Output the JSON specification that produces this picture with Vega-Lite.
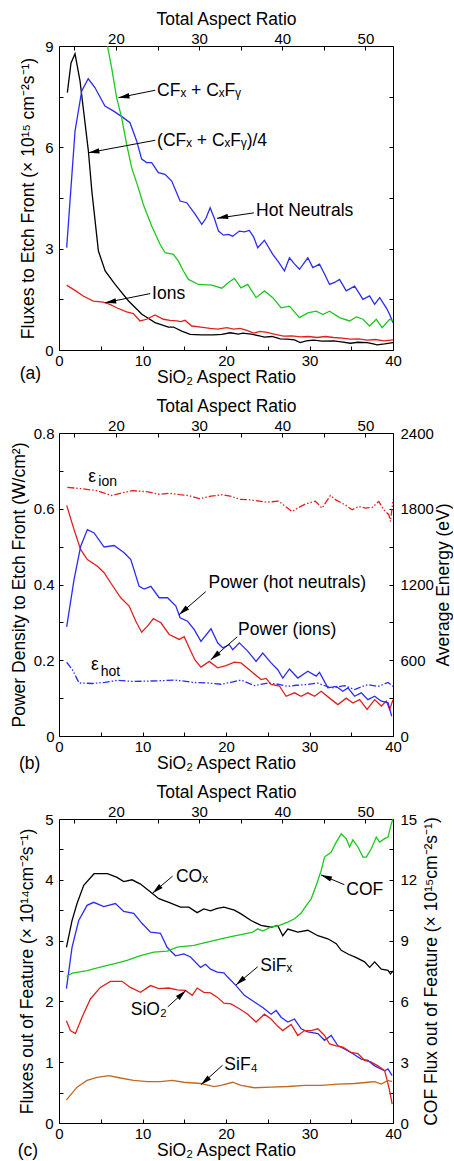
{
"$schema": "https://vega.github.io/schema/vega-lite/v6.json",
"padding": {"left": 10, "top": 9, "right": 0, "bottom": 0},
"background": "white",
"bounds": "flush",
"spacing": 83,
"config": {
  "font": "Liberation Sans",
  "view": {"stroke": "black", "strokeWidth": 1},
  "axis": {"grid": false, "domain": false, "tickColor": "black", "tickSize": -4, "tickWidth": 1,
           "labelColor": "black", "labelFont": "Liberation Sans", "labelFontSize": 15, "labelFlush": false, "labelOverlap": false,
           "titleFont": "Liberation Sans", "titleFontSize": 17.5, "titleFontWeight": "normal", "titleColor": "black"}
},
"datasets": {
  "a_curves": [
    {"s":"cf4","ar":1.0,"v":7.62},{"s":"cf4","ar":1.44,"v":8.5},{"s":"cf4","ar":1.92,"v":8.77},{"s":"cf4","ar":2.52,"v":7.96},{"s":"cf4","ar":3.52,"v":5.89},{"s":"cf4","ar":3.93,"v":4.71},{"s":"cf4","ar":4.72,"v":2.93},{"s":"cf4","ar":5.53,"v":2.34},{"s":"cf4","ar":6.72,"v":1.94},{"s":"cf4","ar":8.33,"v":1.45},{"s":"cf4","ar":9.93,"v":1.06},{"s":"cf4","ar":11.5,"v":0.81},{"s":"cf4","ar":13.1,"v":0.68},{"s":"cf4","ar":13.7,"v":0.68},{"s":"cf4","ar":14.7,"v":0.56},{"s":"cf4","ar":15.7,"v":0.46},{"s":"cf4","ar":17.0,"v":0.45},{"s":"cf4","ar":18.5,"v":0.45},{"s":"cf4","ar":19.5,"v":0.46},{"s":"cf4","ar":20.5,"v":0.51},{"s":"cf4","ar":21.5,"v":0.47},{"s":"cf4","ar":22.0,"v":0.5},{"s":"cf4","ar":23.0,"v":0.47},{"s":"cf4","ar":24.0,"v":0.42},{"s":"cf4","ar":24.6,"v":0.38},{"s":"cf4","ar":25.5,"v":0.4},{"s":"cf4","ar":26.5,"v":0.33},{"s":"cf4","ar":27.3,"v":0.32},{"s":"cf4","ar":28.2,"v":0.3},{"s":"cf4","ar":28.9,"v":0.22},{"s":"cf4","ar":29.6,"v":0.27},{"s":"cf4","ar":30.5,"v":0.29},{"s":"cf4","ar":31.5,"v":0.26},{"s":"cf4","ar":32.9,"v":0.27},{"s":"cf4","ar":33.8,"v":0.24},{"s":"cf4","ar":34.9,"v":0.2},{"s":"cf4","ar":35.8,"v":0.23},{"s":"cf4","ar":36.9,"v":0.22},{"s":"cf4","ar":37.5,"v":0.19},{"s":"cf4","ar":38.1,"v":0.15},{"s":"cf4","ar":39.0,"v":0.18},{"s":"cf4","ar":40.0,"v":0.22},
    {"s":"ion","ar":0.92,"v":1.92},{"s":"ion","ar":2.0,"v":1.75},{"s":"ion","ar":2.9,"v":1.6},{"s":"ion","ar":4.1,"v":1.45},{"s":"ion","ar":5.3,"v":1.42},{"s":"ion","ar":6.1,"v":1.35},{"s":"ion","ar":6.9,"v":1.25},{"s":"ion","ar":8.1,"v":1.13},{"s":"ion","ar":8.9,"v":1.08},{"s":"ion","ar":9.3,"v":0.97},{"s":"ion","ar":9.7,"v":0.86},{"s":"ion","ar":10.5,"v":0.91},{"s":"ion","ar":11.5,"v":1.04},{"s":"ion","ar":12.5,"v":0.91},{"s":"ion","ar":13.3,"v":0.88},{"s":"ion","ar":14.1,"v":0.86},{"s":"ion","ar":14.6,"v":0.84},{"s":"ion","ar":15.1,"v":0.88},{"s":"ion","ar":15.9,"v":0.71},{"s":"ion","ar":17.0,"v":0.68},{"s":"ion","ar":18.1,"v":0.64},{"s":"ion","ar":19.0,"v":0.62},{"s":"ion","ar":20.1,"v":0.66},{"s":"ion","ar":20.9,"v":0.62},{"s":"ion","ar":21.7,"v":0.64},{"s":"ion","ar":22.5,"v":0.58},{"s":"ion","ar":23.3,"v":0.5},{"s":"ion","ar":24.1,"v":0.55},{"s":"ion","ar":24.9,"v":0.52},{"s":"ion","ar":25.9,"v":0.46},{"s":"ion","ar":26.9,"v":0.41},{"s":"ion","ar":27.9,"v":0.42},{"s":"ion","ar":28.9,"v":0.39},{"s":"ion","ar":29.9,"v":0.4},{"s":"ion","ar":30.9,"v":0.37},{"s":"ion","ar":31.9,"v":0.4},{"s":"ion","ar":32.9,"v":0.37},{"s":"ion","ar":33.9,"v":0.35},{"s":"ion","ar":34.9,"v":0.32},{"s":"ion","ar":35.9,"v":0.33},{"s":"ion","ar":36.9,"v":0.29},{"s":"ion","ar":37.9,"v":0.31},{"s":"ion","ar":38.9,"v":0.27},{"s":"ion","ar":40.0,"v":0.3},
    {"s":"hot","ar":0.92,"v":3.03},{"s":"hot","ar":1.92,"v":6.48},{"s":"hot","ar":2.72,"v":7.67},{"s":"hot","ar":3.5,"v":8.03},{"s":"hot","ar":4.3,"v":7.77},{"s":"hot","ar":5.5,"v":7.22},{"s":"hot","ar":6.5,"v":7.08},{"s":"hot","ar":7.7,"v":6.88},{"s":"hot","ar":8.5,"v":6.73},{"s":"hot","ar":9.3,"v":6.19},{"s":"hot","ar":9.9,"v":5.65},{"s":"hot","ar":10.5,"v":5.55},{"s":"hot","ar":11.1,"v":5.55},{"s":"hot","ar":11.9,"v":5.25},{"s":"hot","ar":12.7,"v":5.2},{"s":"hot","ar":13.5,"v":5.0},{"s":"hot","ar":14.5,"v":4.41},{"s":"hot","ar":15.3,"v":4.36},{"s":"hot","ar":16.3,"v":4.02},{"s":"hot","ar":17.1,"v":3.72},{"s":"hot","ar":17.6,"v":3.9},{"s":"hot","ar":18.1,"v":4.21},{"s":"hot","ar":18.6,"v":3.9},{"s":"hot","ar":19.1,"v":3.52},{"s":"hot","ar":19.7,"v":3.4},{"s":"hot","ar":20.3,"v":3.42},{"s":"hot","ar":20.8,"v":3.37},{"s":"hot","ar":21.6,"v":3.52},{"s":"hot","ar":22.2,"v":3.5},{"s":"hot","ar":22.8,"v":3.54},{"s":"hot","ar":23.3,"v":3.35},{"s":"hot","ar":23.8,"v":3.03},{"s":"hot","ar":24.6,"v":3.25},{"s":"hot","ar":25.6,"v":2.83},{"s":"hot","ar":26.3,"v":2.6},{"s":"hot","ar":27.0,"v":2.34},{"s":"hot","ar":27.6,"v":2.73},{"s":"hot","ar":28.2,"v":2.55},{"s":"hot","ar":28.8,"v":2.39},{"s":"hot","ar":29.8,"v":2.73},{"s":"hot","ar":30.4,"v":2.44},{"s":"hot","ar":31.2,"v":2.54},{"s":"hot","ar":31.8,"v":2.25},{"s":"hot","ar":32.4,"v":1.94},{"s":"hot","ar":33.0,"v":2.0},{"s":"hot","ar":33.6,"v":2.09},{"s":"hot","ar":34.4,"v":1.75},{"s":"hot","ar":35.4,"v":1.89},{"s":"hot","ar":35.9,"v":1.7},{"s":"hot","ar":36.4,"v":1.5},{"s":"hot","ar":37.2,"v":1.6},{"s":"hot","ar":37.8,"v":1.35},{"s":"hot","ar":38.4,"v":1.55},{"s":"hot","ar":39.2,"v":1.25},{"s":"hot","ar":39.6,"v":1.05},{"s":"hot","ar":40.0,"v":0.81},
    {"s":"cf","ar":5.8,"v":9.0},{"s":"cf","ar":6.3,"v":8.36},{"s":"cf","ar":6.9,"v":7.47},{"s":"cf","ar":7.5,"v":6.88},{"s":"cf","ar":8.1,"v":6.09},{"s":"cf","ar":8.7,"v":5.4},{"s":"cf","ar":9.5,"v":4.8},{"s":"cf","ar":10.1,"v":4.31},{"s":"cf","ar":11.1,"v":3.67},{"s":"cf","ar":12.1,"v":3.13},{"s":"cf","ar":12.7,"v":2.88},{"s":"cf","ar":13.7,"v":2.83},{"s":"cf","ar":14.3,"v":2.63},{"s":"cf","ar":14.9,"v":2.34},{"s":"cf","ar":15.5,"v":2.09},{"s":"cf","ar":16.7,"v":1.94},{"s":"cf","ar":18.3,"v":1.92},{"s":"cf","ar":19.5,"v":1.83},{"s":"cf","ar":20.3,"v":2.0},{"s":"cf","ar":21.0,"v":2.12},{"s":"cf","ar":21.8,"v":1.84},{"s":"cf","ar":22.6,"v":1.94},{"s":"cf","ar":23.6,"v":1.55},{"s":"cf","ar":24.6,"v":1.75},{"s":"cf","ar":25.6,"v":1.55},{"s":"cf","ar":26.6,"v":1.25},{"s":"cf","ar":27.6,"v":1.3},{"s":"cf","ar":28.8,"v":0.96},{"s":"cf","ar":29.8,"v":1.1},{"s":"cf","ar":30.8,"v":1.15},{"s":"cf","ar":31.6,"v":1.05},{"s":"cf","ar":32.4,"v":1.15},{"s":"cf","ar":33.6,"v":0.96},{"s":"cf","ar":34.8,"v":0.86},{"s":"cf","ar":35.6,"v":0.98},{"s":"cf","ar":36.4,"v":0.91},{"s":"cf","ar":37.2,"v":0.71},{"s":"cf","ar":38.0,"v":0.91},{"s":"cf","ar":38.7,"v":0.66},{"s":"cf","ar":39.6,"v":0.91},{"s":"cf","ar":40.0,"v":0.86}
  ],
  "a_text": [
    {"t":"CFₓ + CₓFᵧ","ar":11.75,"v":7.68},{"t":"(CFₓ + CₓFᵧ)/4","ar":11.75,"v":6.2},{"t":"Hot Neutrals","ar":23.6,"v":4.12},{"t":"Ions","ar":11.15,"v":1.66},{"t":"(a)","ar":-4.7,"v":-0.7}
  ],
  "a_arrows": [
    {"t":"cf","ar":7.12,"v":7.47,"ar2":11.53,"v2":7.69},{"t":"cf4","ar":3.52,"v":5.84,"ar2":11.53,"v2":6.21},{"t":"hot","ar":18.94,"v":3.9,"ar2":23.34,"v2":4.06},{"t":"ion","ar":5.53,"v":1.4,"ar2":10.93,"v2":1.67}
  ],
  "b_power": [
    {"s":"ion","ar":0.92,"v":0.609},{"s":"ion","ar":1.8,"v":0.545},{"s":"ion","ar":2.6,"v":0.492},{"s":"ion","ar":3.4,"v":0.466},{"s":"ion","ar":4.6,"v":0.448},{"s":"ion","ar":5.4,"v":0.431},{"s":"ion","ar":6.2,"v":0.404},{"s":"ion","ar":7.4,"v":0.365},{"s":"ion","ar":8.4,"v":0.343},{"s":"ion","ar":9.2,"v":0.303},{"s":"ion","ar":9.9,"v":0.274},{"s":"ion","ar":10.6,"v":0.29},{"s":"ion","ar":11.3,"v":0.31},{"s":"ion","ar":12.2,"v":0.299},{"s":"ion","ar":13.2,"v":0.268},{"s":"ion","ar":14.4,"v":0.255},{"s":"ion","ar":15.0,"v":0.262},{"s":"ion","ar":15.7,"v":0.228},{"s":"ion","ar":16.3,"v":0.2},{"s":"ion","ar":17.0,"v":0.182},{"s":"ion","ar":18.0,"v":0.197},{"s":"ion","ar":19.0,"v":0.18},{"s":"ion","ar":20.0,"v":0.186},{"s":"ion","ar":21.0,"v":0.195},{"s":"ion","ar":21.8,"v":0.193},{"s":"ion","ar":23.0,"v":0.171},{"s":"ion","ar":24.2,"v":0.149},{"s":"ion","ar":24.8,"v":0.152},{"s":"ion","ar":25.4,"v":0.136},{"s":"ion","ar":26.4,"v":0.132},{"s":"ion","ar":27.2,"v":0.105},{"s":"ion","ar":28.2,"v":0.114},{"s":"ion","ar":29.0,"v":0.105},{"s":"ion","ar":29.8,"v":0.114},{"s":"ion","ar":30.6,"v":0.105},{"s":"ion","ar":31.4,"v":0.118},{"s":"ion","ar":32.4,"v":0.1},{"s":"ion","ar":33.4,"v":0.083},{"s":"ion","ar":34.4,"v":0.1},{"s":"ion","ar":35.2,"v":0.087},{"s":"ion","ar":36.0,"v":0.096},{"s":"ion","ar":36.9,"v":0.07},{"s":"ion","ar":37.8,"v":0.096},{"s":"ion","ar":38.6,"v":0.079},{"s":"ion","ar":39.2,"v":0.092},{"s":"ion","ar":39.6,"v":0.07},{"s":"ion","ar":40.0,"v":0.096},
    {"s":"hot","ar":0.92,"v":0.288},{"s":"hot","ar":1.8,"v":0.413},{"s":"hot","ar":2.6,"v":0.501},{"s":"hot","ar":3.4,"v":0.545},{"s":"hot","ar":4.2,"v":0.536},{"s":"hot","ar":5.4,"v":0.499},{"s":"hot","ar":6.6,"v":0.503},{"s":"hot","ar":7.8,"v":0.484},{"s":"hot","ar":8.6,"v":0.466},{"s":"hot","ar":9.6,"v":0.395},{"s":"hot","ar":10.2,"v":0.388},{"s":"hot","ar":11.0,"v":0.395},{"s":"hot","ar":12.0,"v":0.365},{"s":"hot","ar":13.0,"v":0.365},{"s":"hot","ar":14.0,"v":0.343},{"s":"hot","ar":14.5,"v":0.312},{"s":"hot","ar":15.4,"v":0.303},{"s":"hot","ar":16.2,"v":0.281},{"s":"hot","ar":17.0,"v":0.25},{"s":"hot","ar":18.2,"v":0.283},{"s":"hot","ar":19.0,"v":0.246},{"s":"hot","ar":19.6,"v":0.233},{"s":"hot","ar":20.4,"v":0.241},{"s":"hot","ar":20.8,"v":0.228},{"s":"hot","ar":21.6,"v":0.246},{"s":"hot","ar":22.6,"v":0.224},{"s":"hot","ar":23.6,"v":0.197},{"s":"hot","ar":24.4,"v":0.219},{"s":"hot","ar":25.4,"v":0.193},{"s":"hot","ar":26.2,"v":0.175},{"s":"hot","ar":26.8,"v":0.153},{"s":"hot","ar":27.6,"v":0.177},{"s":"hot","ar":28.6,"v":0.153},{"s":"hot","ar":29.8,"v":0.171},{"s":"hot","ar":30.8,"v":0.158},{"s":"hot","ar":31.2,"v":0.168},{"s":"hot","ar":32.2,"v":0.127},{"s":"hot","ar":33.2,"v":0.131},{"s":"hot","ar":34.0,"v":0.118},{"s":"hot","ar":34.6,"v":0.127},{"s":"hot","ar":35.4,"v":0.105},{"s":"hot","ar":36.2,"v":0.114},{"s":"hot","ar":37.0,"v":0.096},{"s":"hot","ar":37.8,"v":0.105},{"s":"hot","ar":38.6,"v":0.092},{"s":"hot","ar":39.4,"v":0.088},{"s":"hot","ar":39.85,"v":0.052}
  ],
  "b_energy": [
    {"s":"eion","ar":1.0,"e":1970},{"s":"eion","ar":2.5,"e":1960},{"s":"eion","ar":4.4,"e":1945},{"s":"eion","ar":6.3,"e":1905},{"s":"eion","ar":7.5,"e":1925},{"s":"eion","ar":8.8,"e":1943},{"s":"eion","ar":10.5,"e":1935},{"s":"eion","ar":12.0,"e":1915},{"s":"eion","ar":13.2,"e":1922},{"s":"eion","ar":14.4,"e":1912},{"s":"eion","ar":15.5,"e":1905},{"s":"eion","ar":16.8,"e":1880},{"s":"eion","ar":18.2,"e":1900},{"s":"eion","ar":19.6,"e":1912},{"s":"eion","ar":20.8,"e":1895},{"s":"eion","ar":21.6,"e":1875},{"s":"eion","ar":23.0,"e":1870},{"s":"eion","ar":24.8,"e":1852},{"s":"eion","ar":26.3,"e":1860},{"s":"eion","ar":27.1,"e":1820},{"s":"eion","ar":27.9,"e":1778},{"s":"eion","ar":28.7,"e":1810},{"s":"eion","ar":29.5,"e":1837},{"s":"eion","ar":30.7,"e":1860},{"s":"eion","ar":31.5,"e":1805},{"s":"eion","ar":32.5,"e":1905},{"s":"eion","ar":33.1,"e":1872},{"s":"eion","ar":34.3,"e":1830},{"s":"eion","ar":35.1,"e":1792},{"s":"eion","ar":35.9,"e":1818},{"s":"eion","ar":36.7,"e":1805},{"s":"eion","ar":37.5,"e":1810},{"s":"eion","ar":38.3,"e":1858},{"s":"eion","ar":38.9,"e":1792},{"s":"eion","ar":39.5,"e":1753},{"s":"eion","ar":39.7,"e":1699},{"s":"eion","ar":40.0,"e":1872},
    {"s":"ehot","ar":0.92,"e":584},{"s":"ehot","ar":1.6,"e":526},{"s":"ehot","ar":2.4,"e":420},{"s":"ehot","ar":4.0,"e":416},{"s":"ehot","ar":5.5,"e":425},{"s":"ehot","ar":7.0,"e":441},{"s":"ehot","ar":8.8,"e":432},{"s":"ehot","ar":10.6,"e":435},{"s":"ehot","ar":12.2,"e":438},{"s":"ehot","ar":13.8,"e":443},{"s":"ehot","ar":15.0,"e":435},{"s":"ehot","ar":16.2,"e":424},{"s":"ehot","ar":17.8,"e":420},{"s":"ehot","ar":19.4,"e":410},{"s":"ehot","ar":20.6,"e":425},{"s":"ehot","ar":21.8,"e":443},{"s":"ehot","ar":23.4,"e":399},{"s":"ehot","ar":25.0,"e":419},{"s":"ehot","ar":26.2,"e":410},{"s":"ehot","ar":27.4,"e":393},{"s":"ehot","ar":28.4,"e":402},{"s":"ehot","ar":29.4,"e":406},{"s":"ehot","ar":31.0,"e":419},{"s":"ehot","ar":32.6,"e":380},{"s":"ehot","ar":34.2,"e":399},{"s":"ehot","ar":35.4,"e":367},{"s":"ehot","ar":36.2,"e":390},{"s":"ehot","ar":37.0,"e":406},{"s":"ehot","ar":38.2,"e":393},{"s":"ehot","ar":39.4,"e":424},{"s":"ehot","ar":40.0,"e":393}
  ],
  "b_text": [
    {"t":"Power (hot neutrals)","ar":17.9,"v":0.403},{"t":"Power (ions)","ar":21.45,"v":0.28},{"t":"ε","ar":3.5,"v":0.683},{"t":"ε","ar":3.83,"v":0.188},{"t":"(b)","ar":-4.8,"v":-0.073}
  ],
  "b_sub": [
    {"t":"ion","ar":4.71,"v":0.67},{"t":"hot","ar":4.99,"v":0.168}
  ],
  "b_arrows": [
    {"t":"hot","ar":14.37,"v":0.32,"ar2":17.57,"v2":0.381},{"t":"ion","ar":18.17,"v":0.201,"ar2":21.35,"v2":0.262}
  ],
  "c_left": [
    {"s":"co","ar":0.89,"v":2.89},{"s":"co","ar":1.56,"v":3.33},{"s":"co","ar":2.16,"v":3.61},{"s":"co","ar":2.96,"v":3.91},{"s":"co","ar":4.2,"v":4.1},{"s":"co","ar":5.8,"v":4.1},{"s":"co","ar":6.95,"v":4.04},{"s":"co","ar":7.75,"v":3.97},{"s":"co","ar":8.75,"v":4.0},{"s":"co","ar":9.76,"v":3.93},{"s":"co","ar":10.96,"v":3.8},{"s":"co","ar":11.96,"v":3.69},{"s":"co","ar":13.15,"v":3.63},{"s":"co","ar":14.55,"v":3.55},{"s":"co","ar":15.55,"v":3.55},{"s":"co","ar":16.55,"v":3.46},{"s":"co","ar":17.35,"v":3.52},{"s":"co","ar":18.15,"v":3.49},{"s":"co","ar":18.95,"v":3.53},{"s":"co","ar":19.75,"v":3.55},{"s":"co","ar":21.0,"v":3.5},{"s":"co","ar":21.8,"v":3.44},{"s":"co","ar":23.0,"v":3.33},{"s":"co","ar":24.2,"v":3.25},{"s":"co","ar":25.4,"v":3.22},{"s":"co","ar":26.2,"v":3.25},{"s":"co","ar":26.8,"v":3.08},{"s":"co","ar":27.4,"v":3.19},{"s":"co","ar":28.6,"v":3.14},{"s":"co","ar":29.8,"v":3.17},{"s":"co","ar":31.0,"v":3.08},{"s":"co","ar":32.2,"v":3.03},{"s":"co","ar":33.2,"v":2.95},{"s":"co","ar":33.8,"v":2.84},{"s":"co","ar":34.6,"v":2.78},{"s":"co","ar":35.6,"v":2.72},{"s":"co","ar":36.6,"v":2.65},{"s":"co","ar":37.2,"v":2.56},{"s":"co","ar":37.8,"v":2.65},{"s":"co","ar":38.6,"v":2.53},{"s":"co","ar":39.4,"v":2.51},{"s":"co","ar":39.7,"v":2.45},{"s":"co","ar":40.0,"v":2.5},
    {"s":"sifx","ar":0.89,"v":2.21},{"s":"sifx","ar":1.56,"v":2.89},{"s":"sifx","ar":2.36,"v":3.33},{"s":"sifx","ar":3.36,"v":3.58},{"s":"sifx","ar":4.16,"v":3.63},{"s":"sifx","ar":5.36,"v":3.56},{"s":"sifx","ar":6.76,"v":3.61},{"s":"sifx","ar":7.75,"v":3.48},{"s":"sifx","ar":8.95,"v":3.45},{"s":"sifx","ar":9.96,"v":3.28},{"s":"sifx","ar":10.96,"v":3.14},{"s":"sifx","ar":12.15,"v":3.12},{"s":"sifx","ar":12.95,"v":2.89},{"s":"sifx","ar":13.95,"v":2.75},{"s":"sifx","ar":14.95,"v":2.78},{"s":"sifx","ar":15.75,"v":2.73},{"s":"sifx","ar":16.95,"v":2.56},{"s":"sifx","ar":17.55,"v":2.61},{"s":"sifx","ar":18.15,"v":2.53},{"s":"sifx","ar":18.95,"v":2.48},{"s":"sifx","ar":19.75,"v":2.47},{"s":"sifx","ar":20.2,"v":2.4},{"s":"sifx","ar":21.2,"v":2.26},{"s":"sifx","ar":22.2,"v":2.1},{"s":"sifx","ar":23.4,"v":1.99},{"s":"sifx","ar":24.4,"v":1.9},{"s":"sifx","ar":25.4,"v":1.79},{"s":"sifx","ar":26.0,"v":1.85},{"s":"sifx","ar":26.6,"v":1.74},{"s":"sifx","ar":27.4,"v":1.66},{"s":"sifx","ar":28.2,"v":1.71},{"s":"sifx","ar":29.0,"v":1.55},{"s":"sifx","ar":29.8,"v":1.5},{"s":"sifx","ar":31.0,"v":1.47},{"s":"sifx","ar":31.8,"v":1.36},{"s":"sifx","ar":32.6,"v":1.44},{"s":"sifx","ar":33.4,"v":1.27},{"s":"sifx","ar":34.2,"v":1.22},{"s":"sifx","ar":35.2,"v":1.14},{"s":"sifx","ar":36.2,"v":1.05},{"s":"sifx","ar":37.0,"v":1.03},{"s":"sifx","ar":37.8,"v":0.94},{"s":"sifx","ar":39.0,"v":0.86},{"s":"sifx","ar":39.4,"v":0.89},{"s":"sifx","ar":39.9,"v":0.78},
    {"s":"sio2","ar":0.89,"v":1.68},{"s":"sio2","ar":1.36,"v":1.52},{"s":"sio2","ar":1.96,"v":1.47},{"s":"sio2","ar":2.76,"v":1.74},{"s":"sio2","ar":3.76,"v":2.04},{"s":"sio2","ar":4.95,"v":2.23},{"s":"sio2","ar":6.16,"v":2.33},{"s":"sio2","ar":7.55,"v":2.33},{"s":"sio2","ar":8.55,"v":2.23},{"s":"sio2","ar":9.76,"v":2.15},{"s":"sio2","ar":10.96,"v":2.26},{"s":"sio2","ar":11.96,"v":2.21},{"s":"sio2","ar":13.15,"v":2.22},{"s":"sio2","ar":14.15,"v":2.19},{"s":"sio2","ar":15.15,"v":2.18},{"s":"sio2","ar":15.95,"v":2.1},{"s":"sio2","ar":16.55,"v":2.22},{"s":"sio2","ar":17.35,"v":2.15},{"s":"sio2","ar":18.15,"v":2.14},{"s":"sio2","ar":18.95,"v":2.07},{"s":"sio2","ar":19.75,"v":1.97},{"s":"sio2","ar":20.6,"v":1.96},{"s":"sio2","ar":21.6,"v":1.88},{"s":"sio2","ar":22.6,"v":1.79},{"s":"sio2","ar":23.6,"v":1.66},{"s":"sio2","ar":24.6,"v":1.79},{"s":"sio2","ar":25.4,"v":1.71},{"s":"sio2","ar":26.2,"v":1.59},{"s":"sio2","ar":26.8,"v":1.52},{"s":"sio2","ar":27.8,"v":1.62},{"s":"sio2","ar":28.6,"v":1.44},{"s":"sio2","ar":29.4,"v":1.52},{"s":"sio2","ar":30.2,"v":1.52},{"s":"sio2","ar":31.0,"v":1.55},{"s":"sio2","ar":31.8,"v":1.44},{"s":"sio2","ar":32.4,"v":1.3},{"s":"sio2","ar":33.2,"v":1.27},{"s":"sio2","ar":34.0,"v":1.25},{"s":"sio2","ar":35.0,"v":1.16},{"s":"sio2","ar":35.8,"v":1.14},{"s":"sio2","ar":36.6,"v":1.03},{"s":"sio2","ar":37.4,"v":1.0},{"s":"sio2","ar":38.2,"v":0.94},{"s":"sio2","ar":39.0,"v":0.86},{"s":"sio2","ar":39.3,"v":0.7},{"s":"sio2","ar":39.6,"v":0.53},{"s":"sio2","ar":39.9,"v":0.31},
    {"s":"sif4","ar":0.89,"v":0.38},{"s":"sif4","ar":2.16,"v":0.59},{"s":"sif4","ar":3.36,"v":0.7},{"s":"sif4","ar":4.56,"v":0.75},{"s":"sif4","ar":5.96,"v":0.78},{"s":"sif4","ar":7.35,"v":0.74},{"s":"sif4","ar":8.95,"v":0.7},{"s":"sif4","ar":10.56,"v":0.68},{"s":"sif4","ar":12.15,"v":0.68},{"s":"sif4","ar":13.55,"v":0.7},{"s":"sif4","ar":14.95,"v":0.67},{"s":"sif4","ar":16.95,"v":0.65},{"s":"sif4","ar":18.55,"v":0.6},{"s":"sif4","ar":19.4,"v":0.62},{"s":"sif4","ar":20.8,"v":0.67},{"s":"sif4","ar":21.8,"v":0.62},{"s":"sif4","ar":23.4,"v":0.58},{"s":"sif4","ar":25.4,"v":0.59},{"s":"sif4","ar":27.4,"v":0.6},{"s":"sif4","ar":29.4,"v":0.62},{"s":"sif4","ar":31.4,"v":0.62},{"s":"sif4","ar":33.4,"v":0.64},{"s":"sif4","ar":35.4,"v":0.65},{"s":"sif4","ar":37.0,"v":0.67},{"s":"sif4","ar":37.8,"v":0.68},{"s":"sif4","ar":38.6,"v":0.64},{"s":"sif4","ar":39.4,"v":0.7},{"s":"sif4","ar":39.9,"v":0.68}
  ],
  "c_cof": [
    {"ar":0.89,"f":7.23},{"ar":1.6,"f":7.39},{"ar":3.36,"f":7.52},{"ar":4.95,"f":7.69},{"ar":6.56,"f":7.85},{"ar":8.15,"f":8.02},{"ar":9.76,"f":8.26},{"ar":11.35,"f":8.43},{"ar":12.95,"f":8.48},{"ar":14.15,"f":8.68},{"ar":16.15,"f":8.76},{"ar":17.75,"f":8.93},{"ar":19.4,"f":9.09},{"ar":20.6,"f":9.2},{"ar":21.8,"f":9.3},{"ar":23.2,"f":9.42},{"ar":23.8,"f":9.58},{"ar":24.4,"f":9.47},{"ar":25.4,"f":9.67},{"ar":26.4,"f":9.75},{"ar":27.4,"f":9.91},{"ar":28.2,"f":10.08},{"ar":29.0,"f":10.36},{"ar":29.6,"f":10.73},{"ar":30.2,"f":11.06},{"ar":30.8,"f":11.72},{"ar":31.4,"f":12.46},{"ar":31.8,"f":13.12},{"ar":32.6,"f":13.37},{"ar":33.2,"f":13.86},{"ar":33.8,"f":14.27},{"ar":34.4,"f":14.03},{"ar":34.8,"f":13.62},{"ar":35.2,"f":13.97},{"ar":35.8,"f":13.62},{"ar":36.4,"f":13.12},{"ar":36.8,"f":13.12},{"ar":37.4,"f":13.53},{"ar":38.0,"f":14.11},{"ar":38.4,"f":13.86},{"ar":39.0,"f":14.03},{"ar":39.4,"f":14.11},{"ar":39.8,"f":14.77},{"ar":40.0,"f":15.0}
  ],
  "c_text": [
    {"t":"COₓ","ar":14.0,"v":4.05},{"t":"COF","ar":34.4,"v":3.84},{"t":"SiFₓ","ar":24.1,"v":2.58},{"t":"SiO₂","ar":8.6,"v":1.86},{"t":"SiF₄","ar":19.8,"v":0.955},{"t":"(c)","ar":-4.95,"v":-0.46}
  ],
  "c_arrows": [
    {"t":"COx","ar":11.2,"v":3.78,"ar2":13.6,"v2":4.06},{"t":"SiFx","ar":21.19,"v":2.27,"ar2":23.8,"v2":2.57},{"t":"SiF4","ar":17.0,"v":0.63,"ar2":19.59,"v2":0.95},{"t":"COF","ar":31.38,"v":4.08,"ar2":34.17,"v2":3.92},{"t":"SiO2","ar":15.19,"v":2.18,"ar2":13.03,"v2":1.91}
  ]
},
"vconcat": [
  {
    "width": 334, "height": 304,
    "resolve": {"scale": {"y": "independent", "color": "independent"}, "axis": {"x": "independent", "y": "independent"}},
    "layer": [
      {"data": {"name": "a_curves"}, "mark": {"type": "line", "strokeWidth": 1.3, "clip": true},
       "encoding": {
         "x": {"field": "ar", "type": "quantitative", "scale": {"domain": [0, 40], "nice": false},
               "axis": {"orient": "bottom", "title": "SiO₂ Aspect Ratio", "values": [0,5,10,15,20,25,30,35,40], "labelExpr": "datum.value % 10 == 0 ? format(datum.value, 'd') : ''", "labelPadding": 7.2, "titlePadding": 0}},
         "y": {"field": "v", "type": "quantitative", "scale": {"domain": [0, 9], "nice": false},
               "axis": {"orient": "left", "title": "Fluxes to Etch Front (× 10¹⁵ cm⁻²s⁻¹)", "values": [0,1.5,3,4.5,6,7.5,9], "labelExpr": "datum.value % 3 == 0 ? format(datum.value, 'd') : ''", "labelPadding": 10, "titlePadding": 7.5}},
         "color": {"field": "s", "type": "nominal", "scale": {"domain": ["hot","cf","cf4","ion"], "range": ["#2b2bf5","#1dc81d","#000000","#e0201c"]}, "legend": null}
       }},
      {"data": {"name": "a_arrows"}, "mark": {"type": "rule", "color": "black", "strokeWidth": 1},
       "encoding": {
         "x": {"field": "ar", "type": "quantitative", "scale": {"domain": [0, 40], "nice": false}, "axis": null},
         "y": {"field": "v", "type": "quantitative", "scale": {"domain": [0, 9], "nice": false}, "axis": null},
         "x2": {"field": "ar2"}, "y2": {"field": "v2"}
       }},
      {"data": {"name": "a_text"}, "mark": {"type": "text", "align": "left", "baseline": "middle", "fontSize": 17.5, "font": "Liberation Sans", "color": "black"},
       "encoding": {
         "x": {"field": "ar", "type": "quantitative", "scale": {"domain": [0, 40], "nice": false}, "axis": null},
         "y": {"field": "v", "type": "quantitative", "scale": {"domain": [0, 9], "nice": false}, "axis": null},
         "text": {"field": "t"}
       }},
      {"data": {"name": "a_arrows"}, "mark": {"type": "point", "shape": "M0,0L-2.7,11L2.7,11Z", "size": 4, "filled": true, "color": "black", "opacity": 1, "strokeWidth": 0, "angle": 260},
       "encoding": {
         "x": {"field": "ar", "type": "quantitative", "scale": {"domain": [0, 40], "nice": false},
               "axis": {"orient": "top", "title": "Total Aspect Ratio", "values": [1.84,6.82,11.8,16.78,21.76,26.74,31.72,36.7], "labelExpr": "round((datum.value+13.1)/0.996) % 10 == 0 ? format(round((datum.value+13.1)/0.996), 'd') : ''", "labelPadding": 4, "titlePadding": 3}},
         "y": {"field": "v", "type": "quantitative", "scale": {"domain": [0, 9], "nice": false},
               "axis": {"orient": "right", "values": [0,1.5,3,4.5,6,7.5,9], "labels": false, "title": null}}
       }}
    ]
  },
  {
    "width": 334, "height": 303,
    "resolve": {"scale": {"y": "independent", "color": "independent"}, "axis": {"x": "independent", "y": "independent"}},
    "layer": [
      {"data": {"name": "b_power"}, "mark": {"type": "line", "strokeWidth": 1.3, "clip": true},
       "encoding": {
         "x": {"field": "ar", "type": "quantitative", "scale": {"domain": [0, 40], "nice": false},
               "axis": {"orient": "bottom", "title": "SiO₂ Aspect Ratio", "values": [0,5,10,15,20,25,30,35,40], "labelExpr": "datum.value % 10 == 0 ? format(datum.value, 'd') : ''", "labelPadding": 7.2, "titlePadding": 0}},
         "y": {"field": "v", "type": "quantitative", "scale": {"domain": [0, 0.8], "nice": false},
               "axis": {"orient": "left", "title": "Power Density to Etch Front (W/cm²)", "values": [0,0.1,0.2,0.3,0.4,0.5,0.6,0.7,0.8], "labelExpr": "round(datum.value*10) % 2 == 0 ? format(datum.value, '~g') : ''", "labelPadding": 9, "titlePadding": 4.5}},
         "color": {"field": "s", "type": "nominal", "scale": {"domain": ["hot","ion"], "range": ["#2b2bf5","#e0201c"]}, "legend": null}
       }},
      {"data": {"name": "b_arrows"}, "mark": {"type": "rule", "color": "black", "strokeWidth": 1},
       "encoding": {
         "x": {"field": "ar", "type": "quantitative", "scale": {"domain": [0, 40], "nice": false}, "axis": null},
         "y": {"field": "v", "type": "quantitative", "scale": {"domain": [0, 0.8], "nice": false}, "axis": null},
         "x2": {"field": "ar2"}, "y2": {"field": "v2"}
       }},
      {"data": {"name": "b_arrows"}, "mark": {"type": "point", "shape": "M0,0L-2.7,11L2.7,11Z", "size": 4, "filled": true, "color": "black", "opacity": 1, "strokeWidth": 0, "angle": 229},
       "encoding": {
         "x": {"field": "ar", "type": "quantitative", "scale": {"domain": [0, 40], "nice": false}, "axis": null},
         "y": {"field": "v", "type": "quantitative", "scale": {"domain": [0, 0.8], "nice": false}, "axis": null}
       }},
      {"data": {"name": "b_text"}, "mark": {"type": "text", "align": "left", "baseline": "middle", "fontSize": 17.5, "font": "Liberation Sans", "color": "black"},
       "encoding": {
         "x": {"field": "ar", "type": "quantitative", "scale": {"domain": [0, 40], "nice": false}, "axis": null},
         "y": {"field": "v", "type": "quantitative", "scale": {"domain": [0, 0.8], "nice": false}, "axis": null},
         "text": {"field": "t"}
       }},
      {"data": {"name": "b_sub"}, "mark": {"type": "text", "align": "left", "baseline": "middle", "fontSize": 14, "font": "Liberation Sans", "color": "black"},
       "encoding": {
         "x": {"field": "ar", "type": "quantitative", "scale": {"domain": [0, 40], "nice": false}, "axis": null},
         "y": {"field": "v", "type": "quantitative", "scale": {"domain": [0, 0.8], "nice": false}, "axis": null},
         "text": {"field": "t"}
       }},
      {"data": {"name": "b_energy"}, "mark": {"type": "line", "strokeWidth": 1.3, "strokeDash": [7, 2, 1.5, 2, 1.5, 2], "clip": true},
       "encoding": {
         "x": {"field": "ar", "type": "quantitative", "scale": {"domain": [0, 40], "nice": false},
               "axis": {"orient": "top", "title": "Total Aspect Ratio", "values": [1.84,6.82,11.8,16.78,21.76,26.74,31.72,36.7], "labelExpr": "round((datum.value+13.1)/0.996) % 10 == 0 ? format(round((datum.value+13.1)/0.996), 'd') : ''", "labelPadding": 4, "titlePadding": 3}},
         "y": {"field": "e", "type": "quantitative", "scale": {"domain": [0, 2400], "nice": false},
               "axis": {"orient": "right", "title": "Average Energy (eV)", "titleAngle": 270, "titleBaseline": "top", "values": [0,300,600,900,1200,1500,1800,2100,2400], "labelExpr": "datum.value % 600 == 0 ? format(datum.value, 'd') : ''", "labelPadding": 11, "titlePadding": 1}},
         "color": {"field": "s", "type": "nominal", "scale": {"domain": ["ehot","eion"], "range": ["#2b2bf5","#e0201c"]}, "legend": null}
       }}
    ]
  },
  {
    "width": 334, "height": 304,
    "resolve": {"scale": {"y": "independent", "color": "independent"}, "axis": {"x": "independent", "y": "independent"}},
    "layer": [
      {"data": {"name": "c_left"}, "mark": {"type": "line", "strokeWidth": 1.3, "clip": true},
       "encoding": {
         "x": {"field": "ar", "type": "quantitative", "scale": {"domain": [0, 40], "nice": false},
               "axis": {"orient": "bottom", "title": "SiO₂ Aspect Ratio", "values": [0,5,10,15,20,25,30,35,40], "labelExpr": "datum.value % 10 == 0 ? format(datum.value, 'd') : ''", "labelPadding": 7.2, "titlePadding": 0}},
         "y": {"field": "v", "type": "quantitative", "scale": {"domain": [0, 5], "nice": false},
               "axis": {"orient": "left", "title": "Fluxes out of Feature (× 10¹⁴cm⁻²s⁻¹)", "values": [0,0.5,1,1.5,2,2.5,3,3.5,4,4.5,5], "labelExpr": "datum.value % 1 == 0 ? format(datum.value, 'd') : ''", "labelPadding": 10, "titlePadding": 8.5}},
         "color": {"field": "s", "type": "nominal", "scale": {"domain": ["co","sifx","sio2","sif4"], "range": ["#000000","#2b2bf5","#e0201c","#c0691f"]}, "legend": null}
       }},
      {"data": {"name": "c_arrows"}, "mark": {"type": "rule", "color": "black", "strokeWidth": 1},
       "encoding": {
         "x": {"field": "ar", "type": "quantitative", "scale": {"domain": [0, 40], "nice": false}, "axis": null},
         "y": {"field": "v", "type": "quantitative", "scale": {"domain": [0, 5], "nice": false}, "axis": null},
         "x2": {"field": "ar2"}, "y2": {"field": "v2"}
       }},
      {"data": {"name": "c_arrows"}, "transform": [{"filter": "datum.t == 'COx' || datum.t == 'SiFx' || datum.t == 'SiF4'"}],
       "mark": {"type": "point", "shape": "M0,0L-2.7,11L2.7,11Z", "size": 4, "filled": true, "color": "black", "opacity": 1, "strokeWidth": 0, "angle": 229},
       "encoding": {
         "x": {"field": "ar", "type": "quantitative", "scale": {"domain": [0, 40], "nice": false}, "axis": null},
         "y": {"field": "v", "type": "quantitative", "scale": {"domain": [0, 5], "nice": false}, "axis": null}
       }},
      {"data": {"name": "c_arrows"}, "transform": [{"filter": "datum.t == 'COF'"}],
       "mark": {"type": "point", "shape": "M0,0L-2.7,11L2.7,11Z", "size": 4, "filled": true, "color": "black", "opacity": 1, "strokeWidth": 0, "angle": 292},
       "encoding": {
         "x": {"field": "ar", "type": "quantitative", "scale": {"domain": [0, 40], "nice": false}, "axis": null},
         "y": {"field": "v", "type": "quantitative", "scale": {"domain": [0, 5], "nice": false}, "axis": null}
       }},
      {"data": {"name": "c_arrows"}, "transform": [{"filter": "datum.t == 'SiO2'"}],
       "mark": {"type": "point", "shape": "M0,0L-2.7,11L2.7,11Z", "size": 4, "filled": true, "color": "black", "opacity": 1, "strokeWidth": 0, "angle": 47},
       "encoding": {
         "x": {"field": "ar", "type": "quantitative", "scale": {"domain": [0, 40], "nice": false}, "axis": null},
         "y": {"field": "v", "type": "quantitative", "scale": {"domain": [0, 5], "nice": false}, "axis": null}
       }},
      {"data": {"name": "c_text"}, "mark": {"type": "text", "align": "left", "baseline": "middle", "fontSize": 17.5, "font": "Liberation Sans", "color": "black"},
       "encoding": {
         "x": {"field": "ar", "type": "quantitative", "scale": {"domain": [0, 40], "nice": false}, "axis": null},
         "y": {"field": "v", "type": "quantitative", "scale": {"domain": [0, 5], "nice": false}, "axis": null},
         "text": {"field": "t"}
       }},
      {"data": {"name": "c_cof"}, "mark": {"type": "line", "strokeWidth": 1.3, "color": "#1dc81d", "clip": true},
       "encoding": {
         "x": {"field": "ar", "type": "quantitative", "scale": {"domain": [0, 40], "nice": false},
               "axis": {"orient": "top", "title": "Total Aspect Ratio", "values": [1.84,6.82,11.8,16.78,21.76,26.74,31.72,36.7], "labelExpr": "round((datum.value+13.1)/0.996) % 10 == 0 ? format(round((datum.value+13.1)/0.996), 'd') : ''", "labelPadding": 4, "titlePadding": 3}},
         "y": {"field": "f", "type": "quantitative", "scale": {"domain": [0, 15], "nice": false},
               "axis": {"orient": "right", "title": "COF Flux out of Feature (× 10¹⁵cm⁻²s⁻¹)", "titleAngle": 270, "titleBaseline": "top", "values": [0,1.5,3,4.5,6,7.5,9,10.5,12,13.5,15], "labelExpr": "datum.value % 3 == 0 ? format(datum.value, 'd') : ''", "labelPadding": 11, "titlePadding": 6}}
       }}
    ]
  }
]
}
